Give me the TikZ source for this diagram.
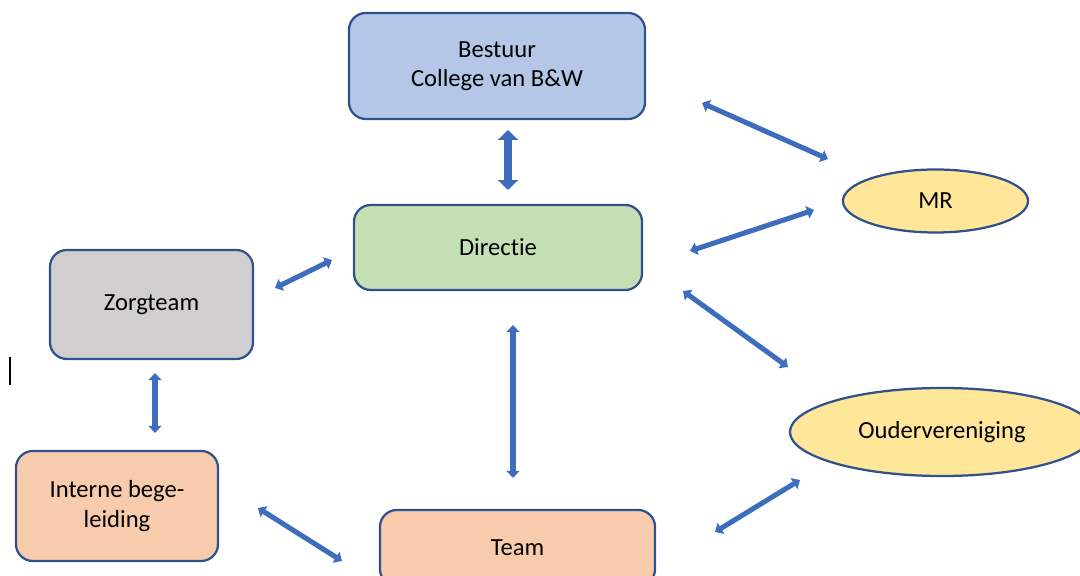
\documentclass[tikz,border=0pt]{standalone}
\usepackage{fontspec}
\setmainfont{Carlito}[Ligatures=NoCommon]
\usetikzlibrary{arrows.meta,shapes.geometric}

\definecolor{rand}{HTML}{2F528F}
\definecolor{pijlblauw}{HTML}{3F6DBD}
\definecolor{bestuurblauw}{HTML}{B4C7E7}
\definecolor{directiegroen}{HTML}{C5E0B4}
\definecolor{zorggrijs}{HTML}{D0CECE}
\definecolor{teamoranje}{HTML}{F8CBAD}
\definecolor{mrgeel}{HTML}{FFE699}

\begin{document}
\begin{tikzpicture}[x=0.025cm, y=-0.025cm,
    blok/.style={draw=rand, line width=1.6pt, rounded corners=12pt, inner sep=0pt,
        align=center, font=\fontsize{17.5}{21}\selectfont},
    ovaal/.style={ellipse, draw=rand, line width=1.6pt, fill=mrgeel, inner sep=0pt,
        font=\fontsize{17.5}{21}\selectfont},
    pijl/.style={pijlblauw, line width=3.6pt,
        {Triangle[length=5pt,width=9pt]}-{Triangle[length=5pt,width=9pt]}},
    dikkepijl/.style={pijlblauw, line width=5.5pt,
        {Triangle[length=7pt,width=14pt]}-{Triangle[length=7pt,width=14pt]}}]

    % --- kader ---
    \useasboundingbox (0,0) rectangle (1080,576);

    % --- blokken ---
    \node[blok, fill=bestuurblauw, minimum width=7.4cm, minimum height=2.65cm]
        (bestuur) at (497,66) {Bestuur\\College van B\&W};
    \node[blok, fill=directiegroen, minimum width=7.2cm, minimum height=2.125cm]
        (directie) at (498,247.5) {Directie};
    \node[blok, fill=zorggrijs, minimum width=5.075cm, minimum height=2.725cm]
        (zorgteam) at (151.5,304.5) {Zorgteam};
    \node[blok, fill=teamoranje, minimum width=5.05cm, minimum height=2.75cm]
        (ib) at (117,506) {Interne bege-\\leiding};
    \node[blok, fill=teamoranje, minimum width=6.875cm, minimum height=1.9cm]
        (team) at (517.5,548) {Team};

    % --- ovalen ---
    \node[ovaal, minimum width=4.625cm, minimum height=1.575cm] (mr) at (935.5,201) {MR};
    \node[ovaal, minimum width=7.6cm, minimum height=2.2cm] (ov) at (942,432) {Oudervereniging};

    % --- eindpunten van de pijlen ---
    \coordinate (bd1) at (508,130);  \coordinate (bd2) at (508,190);
    \coordinate (bm1) at (702,103);  \coordinate (bm2) at (828,159);
    \coordinate (dm1) at (690,251);  \coordinate (dm2) at (814,210);
    \coordinate (do1) at (683,291);  \coordinate (do2) at (788,367);
    \coordinate (dt1) at (513,325);  \coordinate (dt2) at (513,478);
    \coordinate (zd1) at (275,288);  \coordinate (zd2) at (332,260);
    \coordinate (zi1) at (155,373);  \coordinate (zi2) at (155,433);
    \coordinate (it1) at (258,508);  \coordinate (it2) at (342,561);
    \coordinate (to1) at (715,532);  \coordinate (to2) at (800,480);

    % --- pijlen ---
    \draw[dikkepijl] (bd1) -- (bd2);
    \draw[pijl] (bm1) -- (bm2);
    \draw[pijl] (dm1) -- (dm2);
    \draw[pijl] (do1) -- (do2);
    \draw[pijl] (dt1) -- (dt2);
    \draw[pijl] (zd1) -- (zd2);
    \draw[pijl] (zi1) -- (zi2);
    \draw[pijl] (it1) -- (it2);
    \draw[pijl] (to1) -- (to2);

    % cursorstreepje links
    \draw[line width=0.8pt] (10,357) -- (10,385);

\end{tikzpicture}
\end{document}
